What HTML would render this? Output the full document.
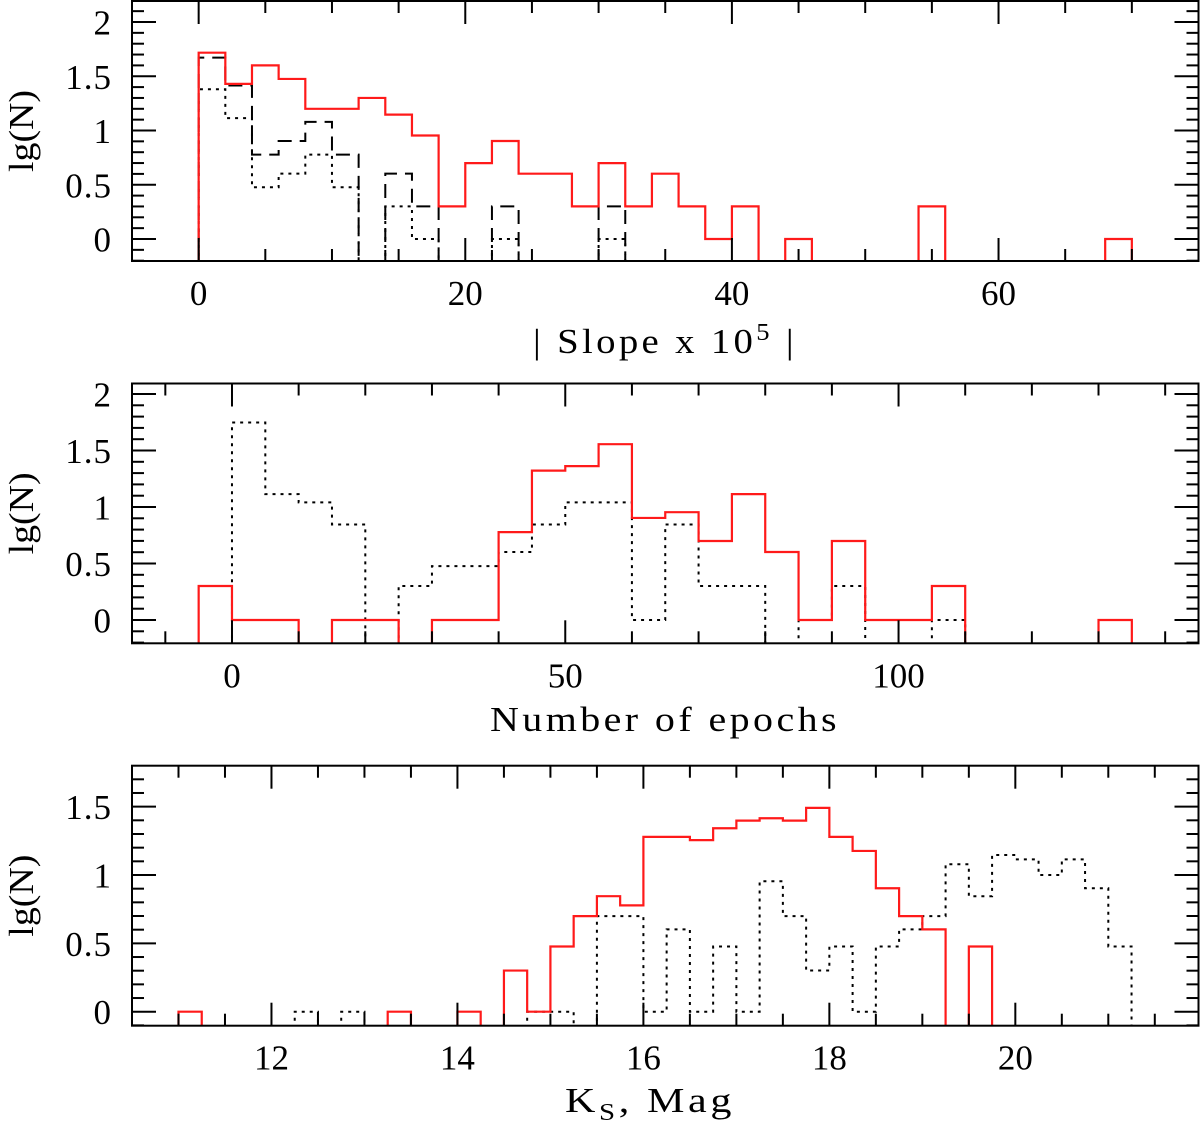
<!DOCTYPE html>
<html><head><meta charset="utf-8"><style>
html,body{margin:0;padding:0;background:#fff;}
svg{display:block;}
text{font-family:"Liberation Serif","DejaVu Serif",serif;fill:#000;}
</style></head><body>
<svg id="chart" width="1200" height="1124" viewBox="0 0 1200 1124" xmlns="http://www.w3.org/2000/svg"></svg>
<script>
// ---- Panel 1: |Slope x 1e5|, bins of width 2 starting at 0
const slopeBinStart = 0;
const slopeBinWidth = 2;
const slopeRed    = [1.717,1.43,1.60,1.475,1.20,1.20,1.30,1.146,0.954,0.301,0.699,0.903,0.602,0.602,0.301,0.699,0.301,0.602,0.301,0,0.301,null,0,null,null,null,null,0.301,null,null,null,null,null,null,0];
const slopeDashed = [1.672,1.415,0.778,0.903,1.079,0.778,null,0.602,0.301,null,null,0.301,null,null,null,0.301];
const slopeDotted = [1.38,1.114,0.477,0.602,0.778,0.477,null,0.301,0,null,null,0,null,null,null,0];
const slopeXTicks = [0,20,40,60];
const slopeYTicks = [0,0.5,1,1.5,2];
const slopeYLabels = ["0","0.5","1","1.5","2"];

// ---- Panel 2: Number of epochs, bins of width 5 starting at -5
const epochBinStart = -5;
const epochBinWidth = 5;
const epochRed    = [0.301,0,0,null,0,0,null,0,0,0.778,1.322,1.362,1.556,0.903,0.954,0.699,1.114,0.602,0,0.699,0,0,0.301,null,null,null,null,0];
const epochDotted = [null,1.748,1.114,1.041,0.845,null,0.301,0.477,0.477,0.602,0.845,1.041,1.041,0,0.845,0.301,0.301,null,0,0.301,null,null,0];
const epochXTicks = [0,50,100];
const epochYTicks = [0,0.5,1,1.5,2];
const epochYLabels = ["0","0.5","1","1.5","2"];

// ---- Panel 3: Ks magnitude, bins of width 0.25 starting at 11.0
const magBinStart = 11.0;
const magBinWidth = 0.25;
const magRed    = [0,null,null,null,null,null,null,null,null,0,null,null,0,null,0.301,0,0.477,0.699,0.845,0.778,1.279,1.279,1.255,1.342,1.398,1.415,1.398,1.491,1.279,1.176,0.903,0.699,0.602,null,0.477];
const magDotted = [null,null,null,null,null,0,null,0,null,null,null,null,null,null,null,0,0,null,0.699,0.699,0,0.602,0,0.477,0,0.954,0.699,0.301,0.477,0,0.477,0.602,0.699,1.079,0.845,1.146,1.114,1.0,1.114,0.903,0.477];
const magXTicks = [12,14,16,18,20];
const magYTicks = [0,0.5,1,1.5];
const magYLabels = ["0","0.5","1","1.5"];

const NS = "http://www.w3.org/2000/svg";
const svg = document.getElementById('chart');
function mk(tag, attrs, parent){
  const e = document.createElementNS(NS, tag);
  for (const k in attrs) e.setAttribute(k, attrs[k]);
  (parent||svg).appendChild(e);
  return e;
}

const L = 132, R = 1198.5;

function panel(cfg){
  const g = mk('g', {});
  
  
  const xs = v => L + (v - cfg.xmin) / (cfg.xmax - cfg.xmin) * (R - L);
  const ys = v => cfg.y0 - v * cfg.yunit;
  const cid = cfg.name + '-clip';
  const cp = mk('clipPath', {id: cid}, g);
  mk('rect', {x: L, y: cfg.top, width: R - L, height: cfg.bottom - cfg.top}, cp);
  const sg = mk('g', {'clip-path': 'url(#' + cid + ')'}, g);
  cfg.series.forEach(s => {
    let d = '';
    const vals = s.values;
    const bottom = cfg.bottom + 3;
    let prev = null;
    for (let i = 0; i < vals.length; i++) {
      const x0 = xs(cfg.binStart + i * cfg.binWidth);
      const x1 = xs(cfg.binStart + (i + 1) * cfg.binWidth);
      const v = vals[i];
      if (v === null) {
        if (prev !== null) d += ' L' + x0.toFixed(2) + ',' + bottom;
        prev = null; continue;
      }
      const y = ys(v).toFixed(2);
      if (prev === null) d += ' M' + x0.toFixed(2) + ',' + bottom + ' L' + x0.toFixed(2) + ',' + y;
      else d += ' L' + x0.toFixed(2) + ',' + y;
      d += ' L' + x1.toFixed(2) + ',' + y;
      prev = v;
    }
    if (prev !== null) {
      const xe = xs(cfg.binStart + vals.length * cfg.binWidth);
      d += ' L' + xe.toFixed(2) + ',' + bottom;
    }
    const p = mk('path', {d: d.trim(), fill: 'none', stroke: s.color, 'stroke-width': s.width, 'stroke-dasharray': s.dash || 'none'}, sg);
    
    
  });
  const fr = mk('rect', {x: L, y: cfg.top, width: R - L, height: cfg.bottom - cfg.top, fill: 'none', stroke: '#000', 'stroke-width': 2}, g);
  
  
  const tg = mk('g', {stroke: '#000', 'stroke-width': 2}, g);
  
  
  const eps = 1e-6;
  for (let v = Math.ceil(cfg.xmin / cfg.xMinor) * cfg.xMinor; v <= cfg.xmax + eps; v += cfg.xMinor) {
    const isMaj = Math.abs(v / cfg.xMajor - Math.round(v / cfg.xMajor)) < 1e-4;
    const len = isMaj ? 23 : 12;
    const x = xs(v);
    mk('line', {x1: x, y1: cfg.bottom, x2: x, y2: cfg.bottom - len}, tg);
    mk('line', {x1: x, y1: cfg.top, x2: x, y2: cfg.top + len}, tg);
  }
  for (let v = 0; v <= cfg.ymaxTick + eps; v += 0.1) {
    const isMaj = Math.abs(v / 0.5 - Math.round(v / 0.5)) < 1e-4;
    const len = isMaj ? 24 : 12;
    const y = ys(v);
    if (y < cfg.top) break;
    mk('line', {x1: L, y1: y, x2: L + len, y2: y}, tg);
    mk('line', {x1: R, y1: y, x2: R - len, y2: y}, tg);
  }
  for (let v = -0.1; ys(v) < cfg.bottom; v -= 0.1) {
    const y = ys(v);
    mk('line', {x1: L, y1: y, x2: L + 12, y2: y}, tg);
    mk('line', {x1: R, y1: y, x2: R - 12, y2: y}, tg);
  }
  cfg.xTicks.forEach(v => {
    const t = mk('text', {x: xs(v), y: cfg.bottom + 44, 'text-anchor': 'middle', 'font-size': 35}, g);
    t.textContent = String(v);
    
    
  });
  cfg.yTicks.forEach((v, i) => {
    const t = mk('text', {x: 112, y: ys(v) + 12.5, 'text-anchor': 'end', 'font-size': 35, 'letter-spacing': 1}, g);
    t.textContent = cfg.yLabels[i];
    
    
  });
  const yc = (cfg.top + cfg.bottom) / 2;
  const yt = mk('text', {x: 0, y: 0, 'text-anchor': 'middle', 'font-size': 35, textLength: 82, lengthAdjust: 'spacingAndGlyphs', transform: 'translate(33,' + yc + ') rotate(-90)'}, g);
  yt.textContent = 'lg(N)';
  
  
  return g;
}

panel({name:'slope-panel', xmin:-5, xmax:75, top:1, bottom:261, y0:239, yunit:108.5, ymaxTick:2.2,
  xMinor:5, xMajor:20, binStart:slopeBinStart, binWidth:slopeBinWidth,
  xTicks:slopeXTicks, yTicks:slopeYTicks, yLabels:slopeYLabels,
  series:[
    {name:'slope-dotted-series', values:slopeDotted, color:'#000', width:2, dash:'3 5'},
    {name:'slope-dashed-series', values:slopeDashed, color:'#000', width:2, dash:'14 8'},
    {name:'slope-red-series', values:slopeRed, color:'#ff1a1a', width:2.2}
  ]});
panel({name:'epochs-panel', xmin:-15, xmax:145, top:383.5, bottom:643.3, y0:620, yunit:113, ymaxTick:2.2,
  xMinor:10, xMajor:50, binStart:epochBinStart, binWidth:epochBinWidth,
  xTicks:epochXTicks, yTicks:epochYTicks, yLabels:epochYLabels,
  series:[
    {name:'epochs-dotted-series', values:epochDotted, color:'#000', width:2, dash:'3 5'},
    {name:'epochs-red-series', values:epochRed, color:'#ff1a1a', width:2.2}
  ]});
panel({name:'mag-panel', xmin:10.5, xmax:21.97, top:765.7, bottom:1025.7, y0:1011.7, yunit:136.7, ymaxTick:1.8,
  xMinor:0.5, xMajor:2, binStart:magBinStart, binWidth:magBinWidth,
  xTicks:magXTicks, yTicks:magYTicks, yLabels:magYLabels,
  series:[
    {name:'mag-dotted-series', values:magDotted, color:'#000', width:2, dash:'3 5'},
    {name:'mag-red-series', values:magRed, color:'#ff1a1a', width:2.2}
  ]});
</script>
<script>
(function(){
  const NS = "http://www.w3.org/2000/svg";
  const svg = document.getElementById('chart');
  function t(x, y, len, html, name){
    const e = document.createElementNS(NS, 'text');
    e.setAttribute('x', x); e.setAttribute('y', y);
    e.setAttribute('font-size', 35);
    e.setAttribute('letter-spacing', 3);
    e.setAttribute('textLength', len);
    e.setAttribute('lengthAdjust', 'spacingAndGlyphs');
    e.innerHTML = html;
    
    
    svg.appendChild(e);
  }
  t(533, 353, 264, '| Slope x 10<tspan font-size="24" dy="-13">5</tspan><tspan dy="13"> |</tspan>', 'x-axis-title-slope');
  t(490, 731, 350, 'Number of epochs', 'x-axis-title-epochs');
  t(565, 1112, 170, 'K<tspan font-size="24" dy="8">S</tspan><tspan dy="-8">, Mag</tspan>', 'x-axis-title-magnitude');
})();
</script>
</body></html>
